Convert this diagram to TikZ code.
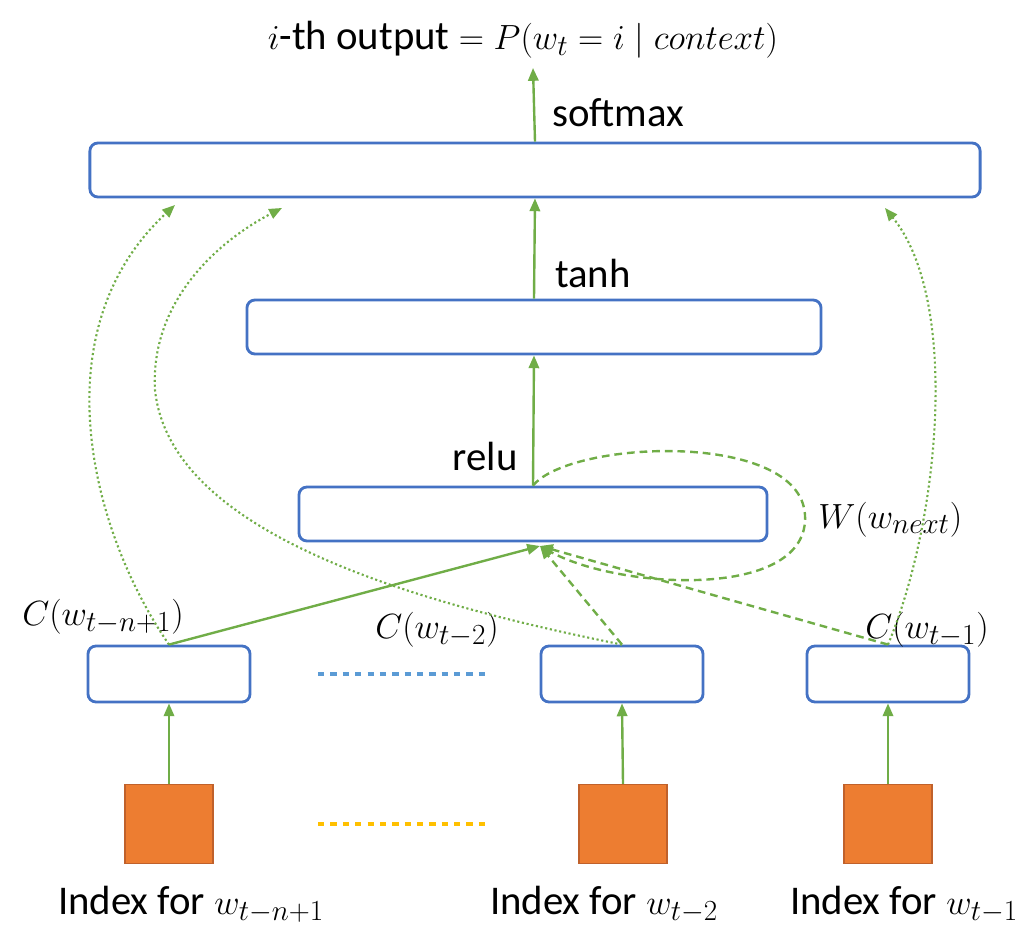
\documentclass[tikz,border=0pt]{standalone}
\usepackage{amsmath}
\usepackage{fontspec}
\setmainfont{Carlito}
\usetikzlibrary{arrows.meta,calc}

\definecolor{boxblue}{HTML}{4472C4}
\definecolor{arrgreen}{HTML}{70AD47}
\definecolor{dotblue}{HTML}{5B9BD5}
\definecolor{dotyellow}{HTML}{FFC000}
\definecolor{idxorange}{HTML}{ED7D31}
\definecolor{idxedge}{HTML}{C0612B}

\begin{document}
\begin{tikzpicture}[x=0.025cm,y=-0.025cm,
    font=\fontsize{29}{34}\selectfont,
    layer/.style={draw=boxblue, line width=2pt, rounded corners=0.2cm, fill=white, minimum height=1.35cm, inner sep=0pt},
    embed/.style={layer, minimum width=4.05cm, minimum height=1.4cm},
    index/.style={draw=idxedge, line width=0.8pt, fill=idxorange, minimum width=2.2cm, minimum height=1.98cm, inner sep=0pt},
    arr/.style={draw=arrgreen, line width=1.7pt, -{Triangle[length=0.32cm,width=0.26cm]}},
    dashedarr/.style={arr, dash pattern=on 5.5pt off 3.5pt},
    dottedarr/.style={arr, line width=1.5pt, dash pattern=on 1.5pt off 1.9pt},
    txt/.style={inner sep=0pt}]
    \useasboundingbox (0,0) rectangle (1034,946);

    % layers
    \node[layer, minimum width=22.25cm] (outp) at (535,170) {};
    \node[layer, minimum width=14.35cm] (hid) at (534,327) {};
    \node[layer, minimum width=11.7cm] (relu) at (533,514) {};

    % word features
    \node[embed] (lft) at (169,674) {};
    \node[embed] (mid) at (622,674) {};
    \node[embed] (rgt) at (888,674) {};
    \node[index] (ilft) at (169,824) {};
    \node[index] (imid) at (623,824) {};
    \node[index] (irgt) at (888,824) {};

    % texts
    \node[txt, anchor=base] (title) at (523,50) {$i$-th output $= P(w_t = i \mid context)$};
    \node[txt, anchor=base west] (lsoft) at (552,127) {softmax};
    \node[txt, anchor=base west] (ltanh) at (555,287) {tanh};
    \node[txt, anchor=base east] (lrelu) at (518,470) {relu};
    \node[txt, anchor=base west] (lwnext) at (818,528) {$W(w_{next})$};
    \node[txt, anchor=base west] (clft) at (22,625) {$C(w_{t-n+1})$};
    \node[txt, anchor=base west] (cmid) at (375,638) {$C(w_{t-2})$};
    \node[txt, anchor=base west] (crgt) at (865,638) {$C(w_{t-1})$};
    \node[txt, anchor=base] (xlft) at (191,914) {Index for $w_{t-n+1}$};
    \node[txt, anchor=base] (xmid) at (604,914) {Index for $w_{t-2}$};
    \node[txt, anchor=base] (xrgt) at (904,914) {Index for $w_{t-1}$};

    % ellipsis rows
    \coordinate (db1) at (318,674);
    \coordinate (db2) at (490,674);
    \coordinate (dy1) at (318,824);
    \coordinate (dy2) at (490,824);
    \draw[dotblue, line width=3.5pt, dash pattern=on 4.5pt off 4.3pt] (db1) -- (db2);
    \draw[dotyellow, line width=3.5pt, dash pattern=on 4.5pt off 4.3pt] (dy1) -- (dy2);

    % arrow ends
    \coordinate (top) at (533,68);
    \coordinate (rin) at (540,546);
    \coordinate (o1) at (175,205);
    \coordinate (o2) at (282,208);
    \coordinate (o3) at (885,208);

    \draw[arr] (outp.north) -- (top);
    \draw[arr] (hid.north) -- (outp.south);
    \draw[arr] (relu.north) -- (hid.south);
    \draw[arr] (ilft.north) -- (lft.south);
    \draw[arr] (imid.north) -- (mid.south);
    \draw[arr] (irgt.north) -- (rgt.south);

    \draw[arr] (lft.north) -- (rin);
    \draw[dashedarr] (mid.north) -- (rin);
    \draw[dashedarr] (rgt.north) -- (rin);
    \draw[dashedarr] (relu.north) .. controls (570,440) and (800,430) .. (805,515)
        .. controls (810,600) and (620,590) .. (rin);

    \draw[dottedarr] (lft.north) .. controls (90,530) and (40,330) .. (o1);
    \draw[dottedarr] (mid.north) .. controls (400,600) and (170,530) .. (155,390)
        .. controls (150,300) and (220,240) .. (o2);
    \draw[dottedarr] (rgt.north) .. controls (940,520) and (960,300) .. (o3);
\end{tikzpicture}
\end{document}
